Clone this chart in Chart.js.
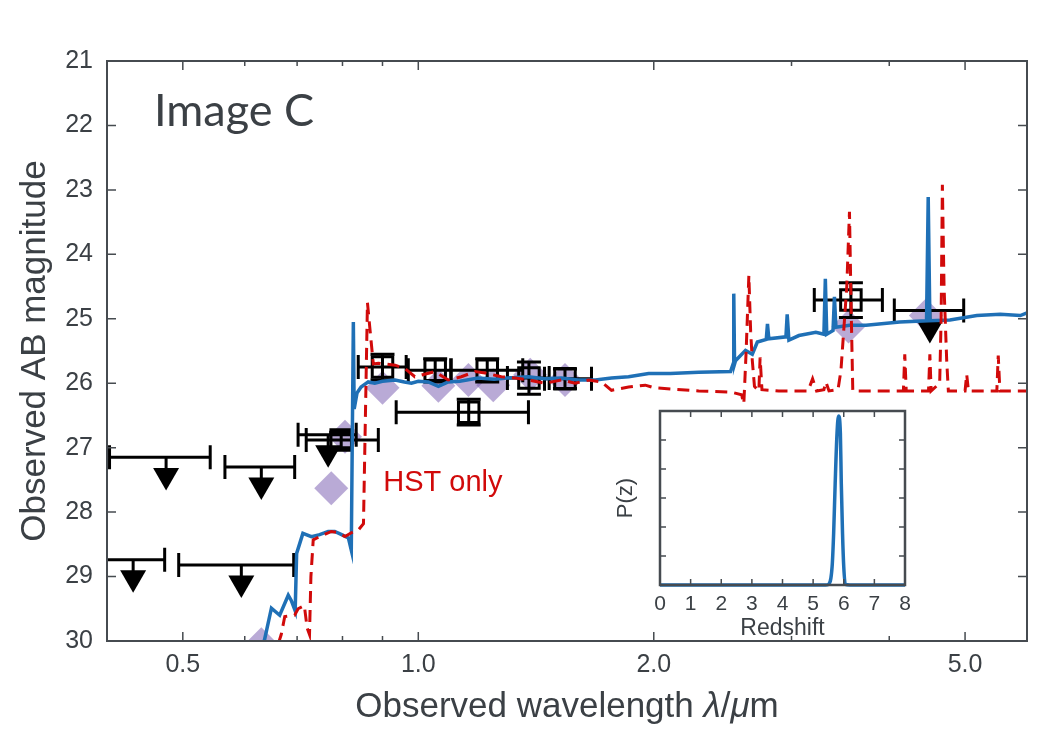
<!DOCTYPE html>
<html>
<head>
<meta charset="utf-8">
<script src="https://cdn.jsdelivr.net/npm/chart.js@4.4.1/dist/chart.umd.min.js"></script>
<style>
  html, body { margin: 0; padding: 0; background: #fff; }
  #wrap { position: relative; width: 1050px; height: 750px; }
  #sedChart { position: absolute; left: 0; top: 0; }
  #pzChart { position: absolute; left: 600px; top: 400px; }
</style>
</head>
<body>
<div id="wrap">
  <canvas id="sedChart" width="1050" height="750"></canvas>
  <canvas id="pzChart" width="320" height="245"></canvas>
</div>
<script>
// best-fit template, all photometry (blue solid)
const sedWave = [0.620, 0.636, 0.649, 0.665, 0.682, 0.688, 0.696, 0.699, 0.712, 0.730, 0.748, 0.767, 0.782, 0.798, 0.814, 0.821, 0.826, 0.828, 0.835, 0.845, 0.863, 0.880, 0.900, 0.934, 0.960, 0.980, 1.000, 1.030, 1.061, 1.092, 1.130, 1.193, 1.250, 1.300, 1.383, 1.450, 1.524, 1.600, 1.684, 1.766, 1.857, 1.970, 2.100, 2.283, 2.507, 2.526, 2.531, 2.537, 2.544, 2.620, 2.673, 2.713, 2.785, 2.795, 2.806, 2.951, 2.962, 2.977, 3.066, 3.223, 3.300, 3.314, 3.328, 3.390, 3.404, 3.419, 3.558, 3.736, 4.125, 4.464, 4.486, 4.508, 4.782, 5.176, 5.546, 5.882, 6.030];
const sedMag = [30.30, 29.98, 29.49, 29.60, 29.29, 29.37, 29.53, 28.64, 28.33, 28.38, 28.35, 28.30, 28.30, 28.35, 28.40, 28.59, 25.05, 26.40, 26.15, 26.06, 25.98, 26.00, 25.97, 25.95, 25.98, 26.00, 25.97, 25.98, 26.05, 25.98, 25.97, 25.92, 25.94, 25.92, 25.90, 25.93, 25.92, 25.95, 25.95, 25.92, 25.90, 25.85, 25.85, 25.83, 25.82, 25.70, 24.61, 25.70, 25.65, 25.49, 25.55, 25.36, 25.32, 25.08, 25.31, 25.28, 24.93, 25.33, 25.26, 25.21, 25.24, 24.38, 25.24, 25.18, 24.66, 25.13, 25.10, 25.10, 25.05, 25.03, 23.11, 25.03, 25.02, 24.95, 24.93, 24.95, 24.90];

// template fitted to HST bands only (red dashed)
const hstWave = [0.662, 0.668, 0.675, 0.695, 0.702, 0.715, 0.721, 0.726, 0.729, 0.734, 0.748, 0.774, 0.790, 0.806, 0.821, 0.838, 0.851, 0.861, 0.868, 0.876, 0.889, 0.934, 0.961, 0.990, 1.050, 1.092, 1.135, 1.182, 1.217, 1.277, 1.330, 1.383, 1.453, 1.524, 1.587, 1.651, 1.715, 1.766, 1.857, 1.951, 2.000, 2.283, 2.516, 2.590, 2.607, 2.625, 2.646, 2.660, 2.673, 2.690, 2.725, 2.735, 2.750, 2.890, 3.150, 3.192, 3.230, 3.300, 3.320, 3.350, 3.440, 3.470, 3.530, 3.558, 3.575, 3.593, 4.170, 4.187, 4.205, 4.490, 4.508, 4.525, 4.640, 4.660, 4.677, 4.700, 4.737, 4.760, 5.000, 5.024, 5.050, 5.490, 5.513, 5.540, 6.050];
const hstMag = [30.05, 29.90, 29.62, 29.60, 29.50, 29.45, 29.80, 29.90, 29.00, 28.43, 28.38, 28.30, 28.32, 28.38, 28.32, 28.28, 28.18, 24.75, 25.20, 25.70, 25.69, 25.72, 25.77, 25.90, 25.82, 25.95, 25.90, 25.82, 25.84, 25.90, 25.92, 25.95, 26.00, 25.95, 26.00, 25.95, 25.98, 26.11, 26.06, 26.03, 26.07, 26.12, 26.14, 26.18, 26.32, 25.50, 24.33, 25.20, 25.65, 26.05, 26.12, 25.60, 26.10, 26.12, 26.12, 25.93, 26.12, 26.10, 25.98, 26.12, 26.10, 25.80, 24.50, 23.34, 24.80, 26.12, 26.12, 25.55, 26.12, 26.12, 25.55, 26.12, 26.00, 25.00, 22.92, 24.50, 25.65, 26.12, 26.12, 25.86, 26.12, 26.12, 25.57, 26.12, 26.12];

// template magnitudes in each band (purple diamonds)
const modelWave = [0.630, 0.774, 0.806, 0.900, 1.061, 1.159, 1.247, 1.390, 1.540, 3.548, 4.455];
const modelMag = [30.05, 27.63, 26.83, 26.07, 26.04, 25.95, 26.03, 25.87, 25.95, 25.12, 24.95];

// measured magnitudes (open squares)
const detWave = [0.797, 0.900, 1.051, 1.160, 1.225, 1.385, 1.540, 3.573];
const detMag = [26.88, 25.75, 25.80, 26.45, 25.80, 25.92, 25.93, 24.71];
const detMagErr = [0.12, 0.20, 0.18, 0.20, 0.18, 0.25, 0.15, 0.27];
const detWaveLo = [0.719, 0.838, 0.971, 0.937, 1.100, 1.300, 1.450, 3.208];
const detWaveHi = [0.889, 0.965, 1.102, 1.383, 1.360, 1.470, 1.665, 3.920];

// upper limits (down triangles)
const limWave = [0.432, 0.476, 0.594, 0.630, 0.767, 4.508];
const limMag = [28.74, 27.15, 28.82, 27.30, 26.80, 24.87];
const limWaveLo = [0.390, 0.403, 0.494, 0.566, 0.702, 4.060];
const limWaveHi = [0.474, 0.542, 0.693, 0.695, 0.833, 4.980];
const limDrop = 0.28;

// axis ticks
const magTicks = [21, 22, 23, 24, 25, 26, 27, 28, 29, 30];
const waveMajor = [0.5, 1.0, 2.0, 5.0];
const waveLabels = ['0.5', '1.0', '2.0', '5.0'];
const waveMinor = [0.6, 0.7, 0.8, 0.9, 3.0, 4.0];

// redshift probability (inset)
const zGrid = [0, 1, 2, 3, 4, 5, 5.40, 5.50, 5.62, 5.67, 5.72, 5.78, 5.83, 5.89, 5.92, 5.96, 6.00, 6.05, 6.20, 7, 8];
const pz = [0, 0, 0, 0, 0, 0, 0, 0.004, 0.126, 0.357, 0.70, 1.046, 1.166, 1.046, 0.70, 0.357, 0.126, 0.004, 0, 0, 0];
const zTicks = [0, 1, 2, 3, 4, 5, 6, 7, 8];

const ink = '#3b4045';
const frameColor = '#464b50';
const sedColor = '#1f70b6';
const hstColor = '#d10a0a';
const fontFamily = '"Liberation Sans", Arial, sans-serif';

Chart.defaults.font.family = fontFamily;
Chart.defaults.color = ink;

function pts(xs, ys) {
    return xs.map((v, i) => ({ x: v, y: ys[i] }));
}

// box plus inward ticks on all four sides
const frameTicks = {
    id: 'frameTicks',
    afterDatasetsDraw(chart, args, opts) {
        const { ctx, chartArea: a, scales } = chart;
        ctx.save();
        ctx.strokeStyle = frameColor;
        ctx.lineWidth = opts.tickWidth;
        ctx.beginPath();
        opts.xTicks.forEach(t => {
            const px = scales.x.getPixelForValue(t.v);
            ctx.moveTo(px, a.bottom); ctx.lineTo(px, a.bottom - t.len);
            ctx.moveTo(px, a.top); ctx.lineTo(px, a.top + t.len);
        });
        opts.yTicks.forEach(t => {
            const py = scales.y.getPixelForValue(t.v);
            ctx.moveTo(a.left, py); ctx.lineTo(a.left + t.len, py);
            ctx.moveTo(a.right, py); ctx.lineTo(a.right - t.len, py);
        });
        ctx.stroke();
        ctx.lineWidth = opts.boxWidth;
        ctx.strokeRect(a.left, a.top, a.width, a.height);
        ctx.restore();
    }
};

// x and y error bars, drawn just under the squares
const errorBars = {
    id: 'errorBars',
    beforeDatasetDraw(chart, args) {
        if (chart.data.datasets[args.index].label !== 'Detections') return;
        const { ctx, chartArea: a, scales: { x, y } } = chart;
        const cap = 12;
        ctx.save();
        ctx.beginPath();
        ctx.rect(a.left, a.top, a.width, a.height);
        ctx.clip();
        ctx.strokeStyle = '#000';
        ctx.lineWidth = 3;
        ctx.beginPath();
        const hbar = (lo, hi, m) => {
            const py = y.getPixelForValue(m);
            const x0 = x.getPixelForValue(lo);
            const x1 = x.getPixelForValue(hi);
            ctx.moveTo(x0, py); ctx.lineTo(x1, py);
            ctx.moveTo(x0, py - cap); ctx.lineTo(x0, py + cap);
            ctx.moveTo(x1, py - cap); ctx.lineTo(x1, py + cap);
        };
        detWave.forEach((w, i) => {
            hbar(detWaveLo[i], detWaveHi[i], detMag[i]);
            const px = x.getPixelForValue(w);
            const y0 = y.getPixelForValue(detMag[i] - detMagErr[i]);
            const y1 = y.getPixelForValue(detMag[i] + detMagErr[i]);
            ctx.moveTo(px, y0); ctx.lineTo(px, y1);
            ctx.moveTo(px - cap, y0); ctx.lineTo(px + cap, y0);
            ctx.moveTo(px - cap, y1); ctx.lineTo(px + cap, y1);
        });
        limWave.forEach((w, i) => {
            hbar(limWaveLo[i], limWaveHi[i], limMag[i]);
            const px = x.getPixelForValue(w);
            ctx.moveTo(px, y.getPixelForValue(limMag[i]));
            ctx.lineTo(px, y.getPixelForValue(limMag[i] + limDrop));
        });
        ctx.stroke();
        ctx.restore();
    }
};

// panel label, fit label and the x title with italic symbols
const textLabels = {
    id: 'textLabels',
    afterDraw(chart) {
        const { ctx, chartArea: a, scales: { x, y } } = chart;
        ctx.save();
        ctx.textBaseline = 'alphabetic';
        ctx.fillStyle = ink;
        ctx.font = '45px Lato';
        ctx.fillText('Image C', a.left + 47, a.top + 65);

        ctx.fillStyle = hstColor;
        ctx.font = '29px ' + fontFamily;
        ctx.fillText('HST only', x.getPixelForValue(0.902), y.getPixelForValue(27.67));

        const parts = [
            ['Observed wavelength ', ''],
            ['\u03bb', 'italic '],
            ['/', ''],
            ['\u03bc', 'italic '],
            ['m', '']
        ];
        ctx.fillStyle = ink;
        let total = 0;
        parts.forEach(p => {
            ctx.font = p[1] + '35px ' + fontFamily;
            total += ctx.measureText(p[0]).width;
        });
        let cx = (a.left + a.right) / 2 - total / 2;
        parts.forEach(p => {
            ctx.font = p[1] + '35px ' + fontFamily;
            ctx.fillText(p[0], cx, 717);
            cx += ctx.measureText(p[0]).width;
        });
        ctx.restore();
    }
};

const sedChart = new Chart(document.getElementById('sedChart'), {
    type: 'scatter',
    data: {
        datasets: [{
            label: 'HST only',
            data: pts(hstWave, hstMag),
            showLine: true,
            borderColor: hstColor,
            borderWidth: 3,
            borderDash: [12, 7],
            pointRadius: 0,
            order: 0
        }, {
            label: 'Best fit',
            data: pts(sedWave, sedMag),
            showLine: true,
            borderColor: sedColor,
            borderWidth: 3.5,
            pointRadius: 0,
            order: 1
        }, {
            label: 'Upper limits',
            data: pts(limWave, limMag.map(m => m + limDrop)),
            pointStyle: 'triangle',
            pointRotation: 180,
            pointRadius: 15,
            pointBackgroundColor: '#000',
            pointBorderWidth: 0,
            order: 2
        }, {
            label: 'Detections',
            data: pts(detWave, detMag),
            pointStyle: 'rect',
            pointRadius: 14.5,
            pointBackgroundColor: 'rgba(0,0,0,0)',
            pointBorderColor: '#000',
            pointBorderWidth: 3,
            order: 3
        }, {
            label: 'Model photometry',
            data: pts(modelWave, modelMag),
            pointStyle: 'rectRot',
            pointRadius: 17,
            pointBackgroundColor: 'rgba(128, 100, 180, 0.55)',
            pointBorderWidth: 0,
            clip: 0,
            order: 4
        }]
    },
    options: {
        responsive: false,
        animation: false,
        events: [],
        layout: { padding: { top: 61, right: 23, left: 0, bottom: 0 } },
        plugins: {
            legend: { display: false },
            tooltip: { enabled: false },
            frameTicks: {
                tickWidth: 1.5,
                boxWidth: 2,
                xTicks: waveMajor.map(v => ({ v: v, len: 9 })).concat(waveMinor.map(v => ({ v: v, len: 5 }))),
                yTicks: magTicks.map(v => ({ v: v, len: 9 }))
            }
        },
        scales: {
            x: {
                type: 'logarithmic',
                min: 0.4,
                max: 6.0,
                grid: { display: false, drawTicks: false },
                border: { display: false },
                afterBuildTicks: scale => {
                    scale.ticks = waveMajor.concat(waveMinor).sort((p, q) => p - q).map(v => ({ value: v }));
                },
                ticks: {
                    autoSkip: false,
                    maxRotation: 0,
                    padding: 9,
                    font: { size: 25 },
                    color: ink,
                    callback: value => {
                        const k = waveMajor.indexOf(value);
                        return k >= 0 ? waveLabels[k] : '';
                    }
                },
                afterFit: scale => { scale.height = 109; }
            },
            y: {
                reverse: true,
                min: 21,
                max: 30,
                grid: { display: false, drawTicks: false },
                border: { display: false },
                ticks: { stepSize: 1, padding: 14, font: { size: 25 }, color: ink },
                title: {
                    display: true,
                    text: 'Observed AB magnitude',
                    font: { size: 35 },
                    color: ink,
                    padding: { top: 14, bottom: 0 }
                },
                afterFit: scale => { scale.width = 107; }
            }
        }
    },
    plugins: [errorBars, frameTicks, textLabels]
});

const insetBackground = {
    id: 'insetBackground',
    beforeDatasetsDraw(chart) {
        const { ctx, chartArea: a } = chart;
        ctx.save();
        ctx.fillStyle = '#fff';
        ctx.fillRect(a.left, a.top, a.width, a.height);
        ctx.restore();
    }
};

const pzChart = new Chart(document.getElementById('pzChart'), {
    type: 'scatter',
    data: {
        datasets: [{
            label: 'P(z)',
            data: pts(zGrid, pz),
            showLine: true,
            borderColor: sedColor,
            borderWidth: 3.5,
            pointRadius: 0,
            cubicInterpolationMode: 'monotone',
            clip: 4
        }]
    },
    options: {
        responsive: false,
        animation: false,
        events: [],
        layout: { padding: { top: 11, right: 15, left: 0, bottom: 0 } },
        plugins: {
            legend: { display: false },
            tooltip: { enabled: false },
            frameTicks: {
                tickWidth: 1.5,
                boxWidth: 2.5,
                xTicks: zTicks.map(v => ({ v: v, len: 6 })),
                yTicks: [0.2, 0.4, 0.6, 0.8, 1.0].map(v => ({ v: v, len: 6 }))
            }
        },
        scales: {
            x: {
                min: 0,
                max: 8,
                grid: { display: false, drawTicks: false },
                border: { display: false },
                ticks: { stepSize: 1, autoSkip: false, maxRotation: 0, padding: 7, font: { size: 21 }, color: ink },
                title: {
                    display: true,
                    text: 'Redshift',
                    font: { size: 23 },
                    color: ink,
                    padding: { top: 0, bottom: 3 }
                },
                afterFit: scale => { scale.height = 60; }
            },
            y: {
                min: 0,
                max: 1.2,
                grid: { display: false, drawTicks: false },
                border: { display: false },
                ticks: { stepSize: 0.2, callback: () => '' },
                title: {
                    display: true,
                    text: 'P(z)',
                    font: { size: 22 },
                    color: ink,
                    padding: { top: 13, bottom: 0 }
                },
                afterFit: scale => { scale.width = 60; }
            }
        }
    },
    plugins: [insetBackground, frameTicks]
});
</script>
</body>
</html>
